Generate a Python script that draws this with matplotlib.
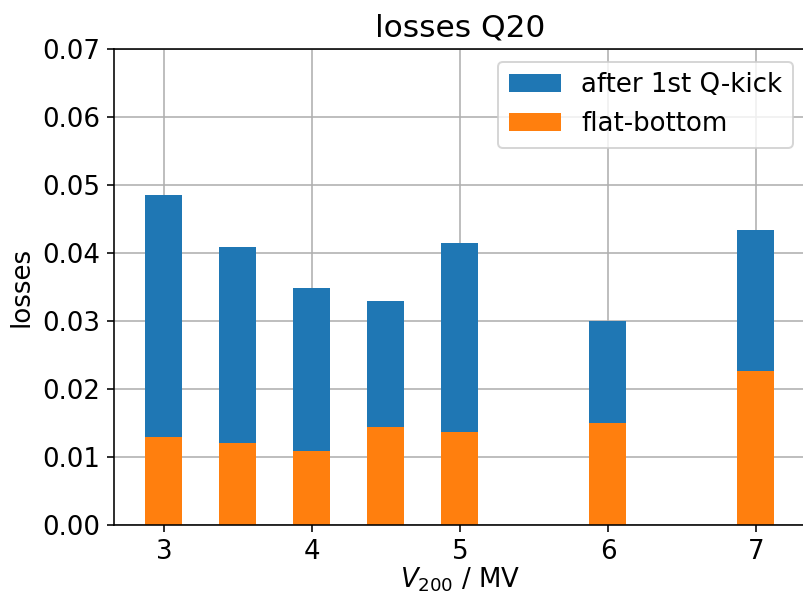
import matplotlib
matplotlib.use("Agg")
import matplotlib.pyplot as plt

voltages = [3.0, 3.5, 4.0, 4.5, 5.0, 6.0, 7.0]
after_qkick = [0.0485, 0.0409, 0.0349, 0.0329, 0.0415, 0.0300, 0.0434]
flat_bottom = [0.0129, 0.0121, 0.0109, 0.0144, 0.0137, 0.0150, 0.0226]

plt.rcParams["font.size"] = 13

DPI = 144
fig = plt.figure(figsize=(803 / DPI, 596 / DPI), dpi=DPI)
ax = fig.add_axes([0.14203, 0.11913, 0.8616, 0.79866])

ax.bar(voltages, after_qkick, width=0.25, color="#1f77b4", label="after 1st Q-kick")
ax.bar(voltages, flat_bottom, width=0.25, color="#ff7f0e", label="flat-bottom")

ax.set_xlim(2.6625, 7.3375)
ax.set_ylim(0, 0.07)
ax.set_yticks([0.00, 0.01, 0.02, 0.03, 0.04, 0.05, 0.06, 0.07])
ax.set_yticklabels([f"{v:.2f}" for v in ax.get_yticks()])
ax.set_xticks([3, 4, 5, 6, 7])
ax.grid(True)
ax.set_axisbelow(True)
ax.set_xlabel("$V_{200}$ / MV", labelpad=0.5)
ax.set_ylabel("losses")
ax.set_title("losses Q20", fontsize="large")
ax.legend(loc="upper right")

fig.savefig("out.png", dpi=DPI)
